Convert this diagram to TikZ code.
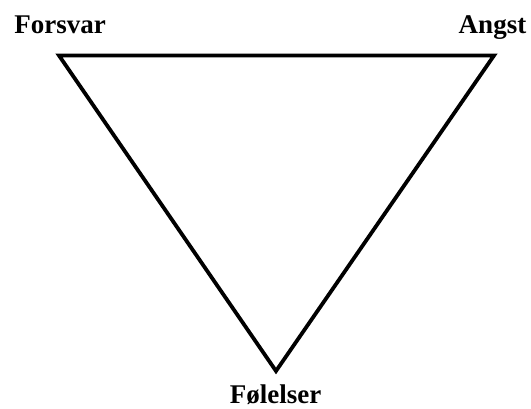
\documentclass[tikz,border=0pt]{standalone}
\usepackage{fontspec}
\setmainfont{Liberation Serif}
\begin{document}
\begin{tikzpicture}[x=1pt,y=-1pt,
  lbl/.style={font=\bfseries\fontsize{27}{27}\selectfont, inner sep=0pt, anchor=base},
  edge/.style={line width=3.8pt, line join=miter}]
\useasboundingbox (0,0) rectangle (531,408);
\coordinate (F) at (59,55.5);
\coordinate (A) at (494,55.5);
\coordinate (B) at (276,371);
\draw[edge] (F) -- (A) -- (B) -- cycle;
\node[lbl] (lf) at (60,33) {Forsvar};
\node[lbl] (la) at (492.5,33) {Angst};
\node[lbl] (lb) at (275.5,403) {Følelser};
\end{tikzpicture}
\end{document}
